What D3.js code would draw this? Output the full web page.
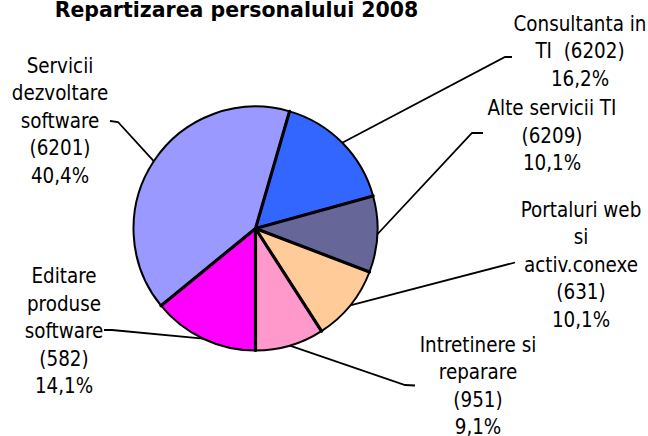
<!DOCTYPE html>
<html>
<head>
<meta charset="utf-8">
<script src="https://cdn.jsdelivr.net/npm/d3@7"></script>
<style>
  html, body { margin: 0; padding: 0; background: #fff; }
  svg { display: block; }
  text { white-space: pre; }
</style>
</head>
<body>
<svg id="chart" width="648" height="436"></svg>
<script>
// ---- data ----
const title = "Repartizarea personalului 2008";
const categories = ["Consultanta in TI  (6202)", "Alte servicii TI (6209)", "Portaluri web si activ.conexe (631)", "Intretinere si reparare (951)", "Editare produse software (582)", "Servicii dezvoltare software (6201)"];
const labelLines = [
  ["Consultanta in", "TI  (6202)"],
  ["Alte servicii TI", "(6209)"],
  ["Portaluri web", "si", "activ.conexe", "(631)"],
  ["Intretinere si", "reparare", "(951)"],
  ["Editare", "produse", "software", "(582)"],
  ["Servicii", "dezvoltare", "software", "(6201)"]
];
const percentLabels = ["16,2%", "10,1%", "10,1%", "9,1%", "14,1%", "40,4%"];
const values = [16.2, 10.1, 10.1, 9.1, 14.1, 40.4];
const colors = ["#3366FF", "#666699", "#FFCC99", "#FF99CC", "#FF00FF", "#9999FF"];

// ---- layout (positions of labels and leader elbows) ----
const cx = 255.5, cy = 228.5, R = 122;
const startDeg = 16.2;
const labelLayout = [
  { x: 580, y: 30.5, elbow: [505, 57], end: [512, 57] },
  { x: 552, y: 115, elbow: [472, 133], end: [483, 133] },
  { x: 581, y: 216.5, elbow: [515, 262.5], end: [515, 262.5] },
  { x: 478, y: 351.5, elbow: [405, 385], end: [415, 385.5] },
  { x: 64, y: 283, elbow: [112, 330], end: [104, 330] },
  { x: 60, y: 72.5, elbow: [118, 122], end: [110, 121] }
];
const lineH = 27.5;

const svg = d3.select("#chart");
const FONT = "'DejaVu Sans Condensed', 'DejaVu Sans', sans-serif";

// fit label font size to reference text widths
const probeWords = ["dezvoltare", "Consultanta in", "Intretinere si", "activ.conexe", "software"];
const probeTargets = [94, 133, 118, 114, 80];
const probe = svg.append("text").style("font-family", FONT).style("font-size", "20px").style("font-stretch", "condensed");
let measured = 0;
probeWords.forEach(w => { probe.text(w); measured += probe.node().getComputedTextLength(); });
probe.remove();
const labelSize = 20 * d3.sum(probeTargets) / measured;

// title
svg.append("text")
  .attr("x", 236.5).attr("y", 16.5)
  .attr("text-anchor", "middle")
  .style("font-family", "'DejaVu Sans', Verdana, sans-serif")
  .style("font-weight", "bold")
  .style("font-size", "20.5px")
  .attr("fill", "#000")
  .text(title);

const toRad = d => d * Math.PI / 180;
const pie = d3.pie().sort(null).value(d => d)
  .startAngle(toRad(startDeg)).endAngle(toRad(startDeg) + 2 * Math.PI);
const arcs = pie(values);
const arc = d3.arc().innerRadius(0).outerRadius(R);

const g = svg.append("g").attr("transform", `translate(${cx},${cy})`);

g.selectAll("path.slice").data(arcs).join("path")
  .attr("class", "slice")
  .attr("d", arc)
  .attr("fill", (d, i) => colors[i])
  .attr("stroke", "#000")
  .attr("stroke-width", 2)
  .attr("stroke-linejoin", "round");

// radial separators (thicker)
g.selectAll("line.sep").data(arcs).join("line")
  .attr("class", "sep")
  .attr("x1", 0).attr("y1", 0)
  .attr("x2", d => R * Math.sin(d.startAngle))
  .attr("y2", d => -R * Math.cos(d.startAngle))
  .attr("stroke", "#000")
  .attr("stroke-width", 3.2)
  .attr("stroke-linecap", "round");

// leader lines
svg.selectAll("polyline.leader").data(arcs).join("polyline")
  .attr("class", "leader")
  .attr("points", (d, i) => {
    const a = (d.startAngle + d.endAngle) / 2;
    const p0 = [cx + R * Math.sin(a), cy - R * Math.cos(a)];
    const L = labelLayout[i];
    return [p0, L.elbow, L.end].map(p => p.join(",")).join(" ");
  })
  .attr("fill", "none")
  .attr("stroke", "#000")
  .attr("stroke-width", 1.8);

// labels
const lbl = svg.selectAll("text.lbl").data(arcs).join("text")
  .attr("class", "lbl")
  .attr("text-anchor", "middle")
  .style("font-family", FONT)
  .style("font-stretch", "condensed")
  .style("font-size", labelSize + "px")
  .attr("fill", "#000");

lbl.each(function (d, i) {
  const L = labelLayout[i];
  const lines = labelLines[i].concat([percentLabels[i]]);
  d3.select(this).selectAll("tspan").data(lines).join("tspan")
    .attr("x", L.x)
    .attr("y", (t, j) => L.y + j * lineH)
    .text(t => t);
});
</script>
</body>
</html>
